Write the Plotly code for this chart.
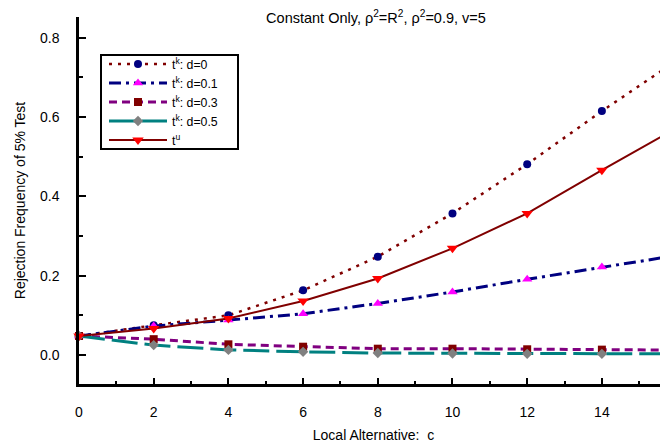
import plotly.graph_objects as go

c_vals = [0, 2, 4, 6, 8, 10, 12, 14, 16]
tk_d0 = [0.048, 0.075, 0.100, 0.163, 0.248, 0.357, 0.481, 0.615, 0.742]
tk_d01 = [0.048, 0.073, 0.088, 0.104, 0.130, 0.159, 0.191, 0.222, 0.251]
tk_d03 = [0.048, 0.040, 0.027, 0.021, 0.016, 0.016, 0.0145, 0.0136, 0.0125]
tk_d05 = [0.048, 0.025, 0.013, 0.008, 0.005, 0.004, 0.003, 0.003, 0.003]
tu = [0.048, 0.067, 0.092, 0.136, 0.193, 0.269, 0.357, 0.466, 0.572]

names = ["t<sup>k</sup>: d=0", "t<sup>k</sup>: d=0.1", "t<sup>k</sup>: d=0.3",
         "t<sup>k</sup>: d=0.5", "t<sup>u</sup>"]
title_text = "Constant Only, \u03c1<sup>2</sup>=R<sup>2</sup>, \u03c1<sup>2</sup>=0.9, v=5"
x_title = "Local Alternative:  c"
y_title = "Rejection Frequency of 5% Test"

FONT = "Liberation Sans, Arial, sans-serif"

styles = [
    dict(line=dict(color="#800000", width=2.5, dash="3px,6px"),
         marker=dict(symbol="circle", color="#000080", size=8)),
    dict(line=dict(color="#000080", width=3, dash="12px,5px,3px,5px"),
         marker=dict(symbol="triangle-up", color="#FF00FF", size=9)),
    dict(line=dict(color="#800080", width=3, dash="8px,5px"),
         marker=dict(symbol="square", color="#800000", size=8)),
    dict(line=dict(color="#008080", width=3, dash="26px,7px"),
         marker=dict(symbol="diamond", color="#808080", size=8)),
    dict(line=dict(color="#800000", width=2),
         marker=dict(symbol="triangle-down", color="#FF0000", size=10)),
]
series = [tk_d0, tk_d01, tk_d03, tk_d05, tu]

fig = go.Figure()
for name, ys, st in zip(names, series, styles):
    fig.add_trace(go.Scatter(x=c_vals, y=ys, name=name, mode="lines+markers",
                             line=st["line"], marker=st["marker"], cliponaxis=False))

# page body has an 8px default margin: figure sits at (8, 8)
W, H = 660, 435
PL, PR, PT, PB = 79, 668, 17, 384  # plot area in page pixels


def px(x):
    return (x - PL) / (PR - PL)


def py(y):
    return (PB - y) / (PB - PT)


fig.add_shape(type="rect", xref="paper", yref="paper",
              x0=px(101), x1=px(238), y0=py(149), y1=py(55),
              line=dict(color="black", width=2), fillcolor="white", layer="above")

fig.update_layout(
    width=W, height=H,
    margin=dict(l=71, r=0, t=9, b=59),
    paper_bgcolor="white", plot_bgcolor="white",
    font=dict(family=FONT, size=14, color="black"),
    title=dict(text=title_text, x=368 / W, xanchor="center", y=1 - 9.5 / H, yanchor="middle",
               font=dict(family=FONT, size=14.5, color="black")),
    showlegend=True,
    legend=dict(x=px(104), y=py(102), xanchor="left", yanchor="middle",
                borderwidth=0, bgcolor="rgba(0,0,0,0)",
                font=dict(family=FONT, size=12.3, color="black"),
                tracegroupgap=0, itemwidth=58),
)
fig.update_xaxes(
    range=[0, 15.77], showgrid=False, zeroline=False,
    showline=True, linecolor="black", linewidth=2.5,
    ticks="inside", ticklen=6, tickwidth=2, tickcolor="black",
    tick0=0, dtick=2, ticklabelstandoff=13,
    minor=dict(ticks="inside", ticklen=3, tickwidth=1.5, tickcolor="black", dtick=1),
    title=dict(text=x_title, font=dict(family=FONT, size=14, color="black"), standoff=12),
    tickfont=dict(family=FONT, size=14, color="black"),
)
fig.update_yaxes(
    range=[-0.073, 0.852], showgrid=False, zeroline=False,
    showline=True, linecolor="black", linewidth=2.5,
    ticks="inside", ticklen=7, tickwidth=2, tickcolor="black",
    tick0=0, dtick=0.2, tickformat=".1f", ticklabelstandoff=14,
    minor=dict(ticks="inside", ticklen=4, tickwidth=1.5, tickcolor="black", dtick=0.1),
    title=dict(text=y_title, font=dict(family=FONT, size=14, color="black"), standoff=12),
    tickfont=dict(family=FONT, size=14, color="black"),
)

fig.write_html("out.html")
